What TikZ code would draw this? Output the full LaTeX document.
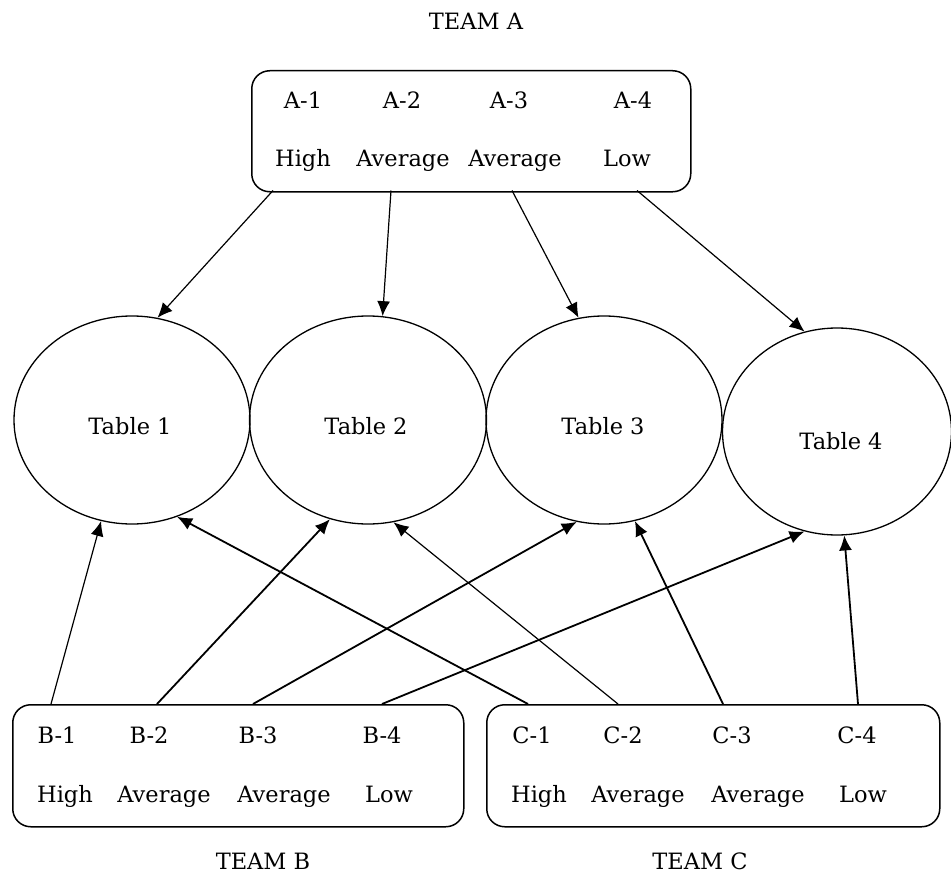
\documentclass[tikz,border=0pt]{standalone}
\usepackage{fontspec}
\setmainfont{DejaVu Serif}
\usetikzlibrary{arrows.meta,shapes.geometric}
\begin{document}
\begin{tikzpicture}[x=1pt,y=-1pt,
  lbl/.style={anchor=base,inner sep=0pt,font=\fontsize{22.5}{27}\selectfont},
  teambox/.style={draw,line width=1.5pt,rounded corners=18pt,anchor=north west,inner sep=0pt},
  tbl/.style={draw,ellipse,line width=1.3pt,inner sep=0pt},
  conn/.style={line width=1.2pt,-{Latex[length=15pt,width=13pt]}},
  connb/.style={line width=1.8pt,-{Latex[length=15pt,width=13pt]}}]
\useasboundingbox (0,0) rectangle (951,875);
% boxes
\node[teambox,minimum width=439pt,minimum height=121pt] (boxA) at (251,70) {};
\node[teambox,minimum width=451pt,minimum height=122pt] (boxB) at (12,704) {};
\node[teambox,minimum width=453pt,minimum height=122pt] (boxC) at (486,704) {};
% tables
\node[tbl,minimum width=236pt,minimum height=208pt] (t1) at (132,420) {};
\node[tbl,minimum width=237pt,minimum height=208pt] (t2) at (368,420) {};
\node[tbl,minimum width=236pt,minimum height=208pt] (t3) at (604,420) {};
\node[tbl,minimum width=229pt,minimum height=207pt] (t4) at (837,431.5) {};
% texts
\node[lbl] (teamA) at (476,30) {TEAM A};
\node[lbl] (teamB) at (263,869) {TEAM B};
\node[lbl] (teamC) at (700,869) {TEAM C};
\node[lbl] (tt1) at (130,434) {Table 1};
\node[lbl] (tt2) at (366,434) {Table 2};
\node[lbl] (tt3) at (603,434) {Table 3};
\node[lbl] (tt4) at (841,449) {Table 4};
\node[lbl] (a1) at (303,108) {A-1};
\node[lbl] (a2) at (402,108) {A-2};
\node[lbl] (a3) at (509,108) {A-3};
\node[lbl] (a4) at (633,108) {A-4};
\node[lbl] (ra1) at (303,166) {High};
\node[lbl] (ra2) at (403,166) {Average};
\node[lbl] (ra3) at (515,166) {Average};
\node[lbl] (ra4) at (627,166) {Low};
\node[lbl] (b1) at (57,743) {B-1};
\node[lbl] (b2) at (149,743) {B-2};
\node[lbl] (b3) at (258,743) {B-3};
\node[lbl] (b4) at (382,743) {B-4};
\node[lbl] (rb1) at (65,802) {High};
\node[lbl] (rb2) at (164,802) {Average};
\node[lbl] (rb3) at (284,802) {Average};
\node[lbl] (rb4) at (389,802) {Low};
\node[lbl] (c1) at (532,743) {C-1};
\node[lbl] (c2) at (623,743) {C-2};
\node[lbl] (c3) at (732,743) {C-3};
\node[lbl] (c4) at (857,743) {C-4};
\node[lbl] (rc1) at (539,802) {High};
\node[lbl] (rc2) at (638,802) {Average};
\node[lbl] (rc3) at (758,802) {Average};
\node[lbl] (rc4) at (863,802) {Low};
% start points
\coordinate (sa1) at (273,190.5);
\coordinate (sa2) at (391,190.5);
\coordinate (sa3) at (512,190.5);
\coordinate (sa4) at (637,190.5);
\coordinate (sb1) at (51,704);
\coordinate (sb2) at (157,704);
\coordinate (sb3) at (253,704);
\coordinate (sb4) at (382,704);
\coordinate (sc1) at (528,704);
\coordinate (sc2) at (618,704);
\coordinate (sc3) at (723,704);
\coordinate (sc4) at (858,704);
% connectors from A
\draw[conn] (sa1) -- (t1.76.5);
\draw[conn] (sa2) -- (t2.82.4);
\draw[conn] (sa3) -- (t3.104.4);
\draw[conn] (sa4) -- (t4.108.6);
% connectors from B
\draw[conn] (sb1) -- (t1.-107.5);
\draw[connb] (sb2) -- (t2.-111.5);
\draw[connb] (sb3) -- (t3.-105.1);
\draw[connb] (sb4) -- (t4.-108.8);
% connectors from C
\draw[connb] (sc1) -- (t1.-65.2);
\draw[conn] (sc2) -- (t2.-76.5);
\draw[connb] (sc3) -- (t3.-73.5);
\draw[connb] (sc4) -- (t4.-86.2);
\end{tikzpicture}
\end{document}
